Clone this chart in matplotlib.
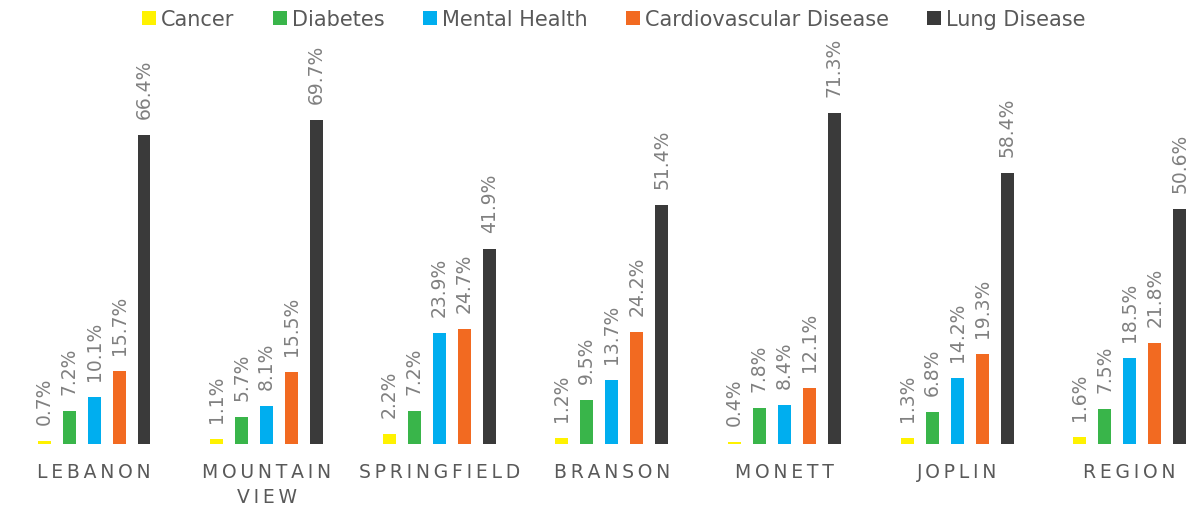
import matplotlib
matplotlib.use("Agg")
import matplotlib.pyplot as plt
import numpy as np

# Data
locations = ["LEBANON", "MOUNTAIN\nVIEW", "SPRINGFIELD", "BRANSON", "MONETT", "JOPLIN", "REGION"]
series_names = ["Cancer", "Diabetes", "Mental Health", "Cardiovascular Disease", "Lung Disease"]
cancer = [0.7, 1.1, 2.2, 1.2, 0.4, 1.3, 1.6]
diabetes = [7.2, 5.7, 7.2, 9.5, 7.8, 6.8, 7.5]
mental_health = [10.1, 8.1, 23.9, 13.7, 8.4, 14.2, 18.5]
cardiovascular = [15.7, 15.5, 24.7, 24.2, 12.1, 19.3, 21.8]
lung = [66.4, 69.7, 41.9, 51.4, 71.3, 58.4, 50.6]

series_values = [cancer, diabetes, mental_health, cardiovascular, lung]
colors = ["#FFF200", "#39B54A", "#00AEEF", "#F26A21", "#3A3A3A"]


def tracked(label):
    # widen letter spacing with thin spaces between characters, line by line
    return "\n".join("\u2009".join(line) for line in label.split("\n"))


fig = plt.figure(figsize=(11.94, 5.10), dpi=100)
ax = fig.add_axes([0.00645, 0.1275, 1.012, 0.729])

x = np.arange(len(locations))
step = 0.1448
width = 0.0753

handles = []
for i, (name, vals, col) in enumerate(zip(series_names, series_values, colors)):
    pos = x + (i - 2) * step
    bars = ax.bar(pos, vals, width=width, color=col, label=name, zorder=2)
    handles.append(bars)
    for xp, v in zip(pos, vals):
        ax.annotate(f"{v:.1f}%", xy=(xp, v), xytext=(0, 17), textcoords="offset pixels",
                    rotation=90, ha="center", va="bottom", fontsize=13.5, color="#808080")

ax.set_xlim(-0.5, len(locations) - 0.5)
ax.set_ylim(0, 80)
ax.set_yticks([])
ax.set_xticks(x)
ax.set_xticklabels([tracked(l) for l in locations], fontsize=13.5, color="#595959",
                   linespacing=1.4)
ax.tick_params(axis="x", length=0, pad=13)
for s in ax.spines.values():
    s.set_visible(False)

fig.legend(handles=handles, loc="center", bbox_to_anchor=(614 / 1194, 1 - 20 / 510), ncol=5,
           frameon=False, fontsize=15, handlelength=0.65, handleheight=0.65,
           handletextpad=0.25, columnspacing=1.85, labelcolor="#595959",
           borderaxespad=0, borderpad=0)

fig.savefig("out.png", dpi=100)
